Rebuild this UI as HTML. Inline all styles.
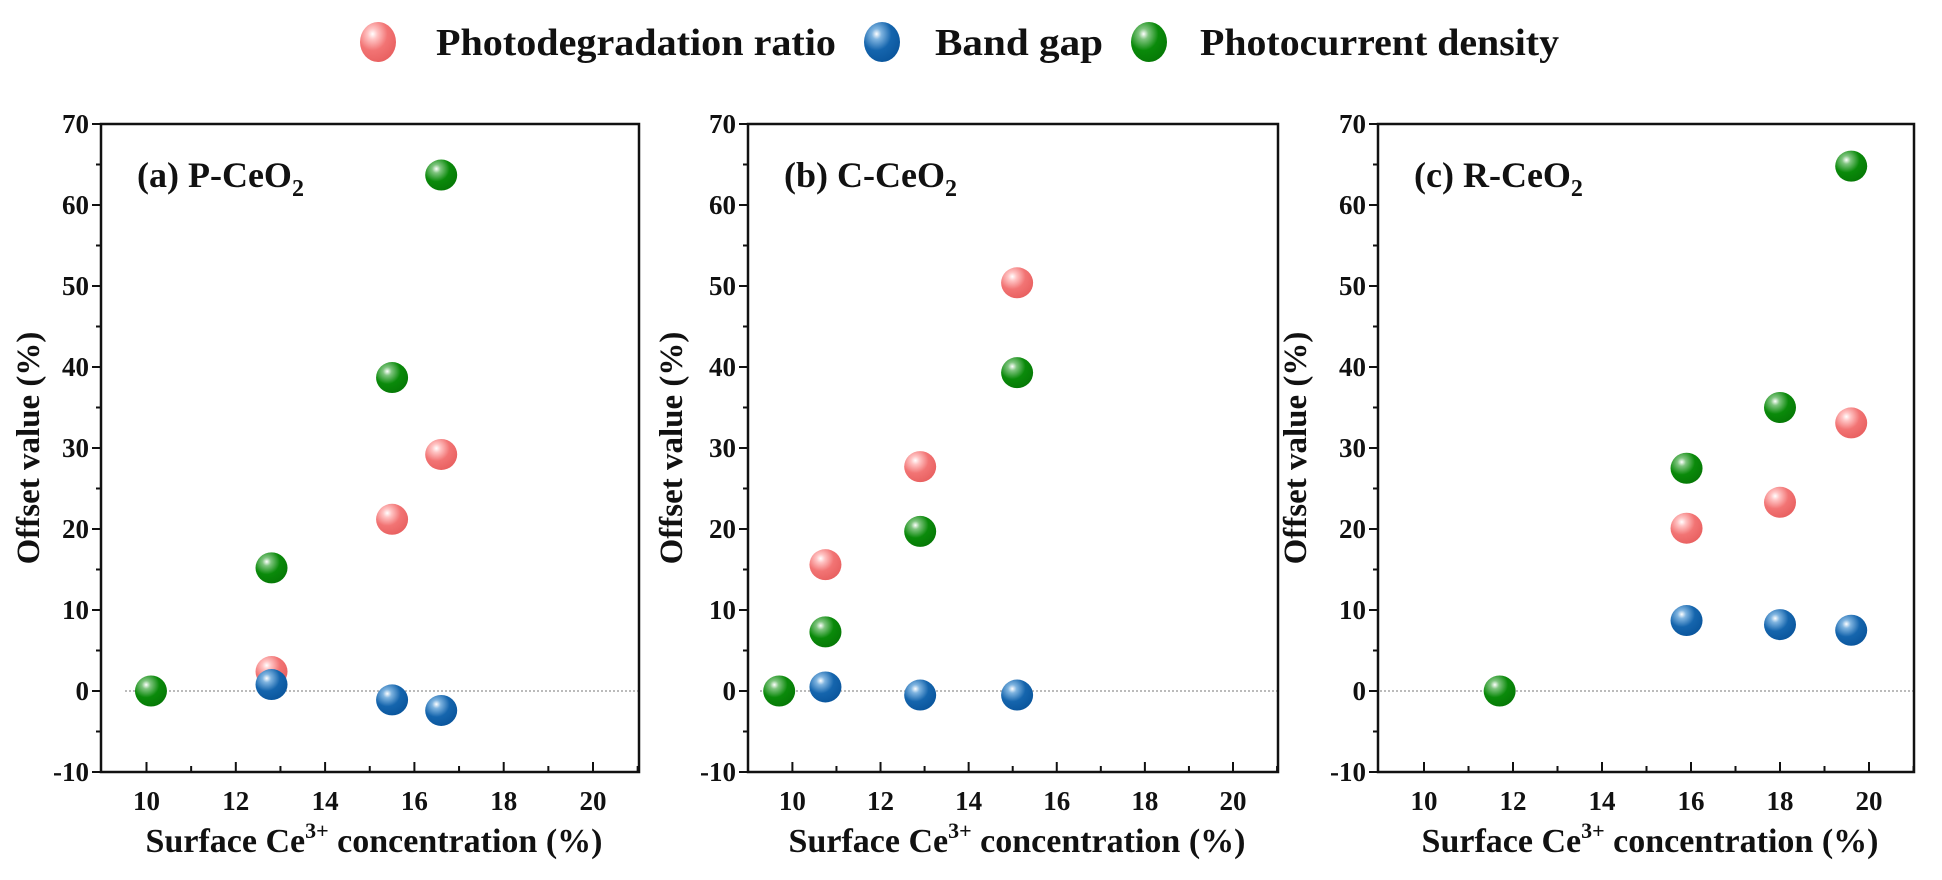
<!DOCTYPE html>
<html><head><meta charset="utf-8">
<style>
html,body{margin:0;padding:0;background:#fff;}
svg text{font-family:"Liberation Serif",serif;font-weight:bold;fill:#111;}
</style></head>
<body>
<svg id="s" width="1942" height="875" viewBox="0 0 1942 875" xmlns="http://www.w3.org/2000/svg">
<defs>
<radialGradient id="gp" cx="0.35" cy="0.3" r="0.75"><stop offset="0" stop-color="#fff"/><stop offset="0.18" stop-color="#ffc4c4"/><stop offset="0.55" stop-color="#f27474"/><stop offset="1" stop-color="#e86060"/></radialGradient>
<radialGradient id="gb" cx="0.35" cy="0.3" r="0.75"><stop offset="0" stop-color="#fff"/><stop offset="0.18" stop-color="#7fb4e0"/><stop offset="0.55" stop-color="#1565ad"/><stop offset="1" stop-color="#0a559c"/></radialGradient>
<radialGradient id="gg" cx="0.35" cy="0.3" r="0.75"><stop offset="0" stop-color="#fff"/><stop offset="0.18" stop-color="#7fc47f"/><stop offset="0.55" stop-color="#0a8a0a"/><stop offset="1" stop-color="#067806"/></radialGradient>
</defs>
<ellipse cx="378" cy="42" rx="18" ry="20" fill="url(#gp)"/>
<text x="436" y="55" font-size="38" textLength="400" lengthAdjust="spacingAndGlyphs">Photodegradation ratio</text>
<ellipse cx="882" cy="42" rx="18" ry="20" fill="url(#gb)"/>
<text x="935" y="55" font-size="38" textLength="168" lengthAdjust="spacingAndGlyphs">Band gap</text>
<ellipse cx="1149" cy="42" rx="18" ry="20" fill="url(#gg)"/>
<text x="1200" y="55" font-size="38" textLength="359" lengthAdjust="spacingAndGlyphs">Photocurrent density</text>
</svg>
<script>
(function(){
const s=document.getElementById('s');
const NS='http://www.w3.org/2000/svg';
function el(t,a,txt){const e=document.createElementNS(NS,t);for(const k in a)e.setAttribute(k,a[k]);if(txt!==undefined)e.innerHTML=txt;s.appendChild(e);return e;}
const T0=124,B0=772;
const Y=v=>T0+(70-v)*(B0-T0)/80;
const panels=[
{L:101,R:639,x10:146.5,x20:593,title:'(a) P-CeO<tspan font-size="24" dy="9">2</tspan>',ylab:27,z0:125,
g:[[10.1,0],[12.8,15.2],[15.5,38.7],[16.6,63.7]],p:[[12.8,2.4],[15.5,21.2],[16.6,29.2]],b:[[12.8,0.8],[15.5,-1.1],[16.6,-2.4]]},
{L:748,R:1278,x10:792.4,x20:1233,title:'(b) C-CeO<tspan font-size="24" dy="9">2</tspan>',ylab:670,z0:760,
g:[[9.7,0],[10.75,7.3],[12.9,19.7],[15.1,39.3]],p:[[10.75,15.6],[12.9,27.7],[15.1,50.4]],b:[[10.75,0.5],[12.9,-0.5],[15.1,-0.5]]},
{L:1378,R:1914,x10:1424,x20:1869,title:'(c) R-CeO<tspan font-size="24" dy="9">2</tspan>',ylab:1294,z0:1380,
g:[[11.7,0],[15.9,27.5],[18,35],[19.6,64.8]],p:[[15.9,20.1],[18,23.3],[19.6,33.1]],b:[[15.9,8.7],[18,8.2],[19.6,7.5]]}
];
for(const P of panels){
 const X=v=>P.x10+(v-10)*(P.x20-P.x10)/10;
 el('line',{x1:P.z0,x2:P.R,y1:Y(0),y2:Y(0),stroke:'#777','stroke-width':1,'stroke-dasharray':'2,2'});
 el('rect',{x:P.L,y:T0,width:P.R-P.L,height:B0-T0,fill:'none',stroke:'#111','stroke-width':2.5});
 for(let v=-10;v<=70;v+=5){const maj=v%10==0;el('line',{x1:P.L-(maj?9:5),x2:P.L,y1:Y(v),y2:Y(v),stroke:'#111','stroke-width':2});
  if(maj)el('text',{x:P.L-12,y:Y(v)+9,'font-size':27,'text-anchor':'end'},String(v));}
 for(let v=10;v<=21;v+=1){const x=X(v);if(x>P.R)break;const maj=v%2==0;el('line',{x1:x,x2:x,y1:B0,y2:B0-(maj?10:6),stroke:'#111','stroke-width':2});
  if(maj)el('text',{x:x,y:810,'font-size':27,'text-anchor':'middle'},String(v));}
 el('text',{x:(P.L+P.R)/2+4,y:852,'font-size':34,'text-anchor':'middle'},'Surface Ce<tspan font-size="22" dy="-14">3+</tspan><tspan dy="14"> concentration (%)</tspan>');
 const cy=(T0+B0)/2;
 el('text',{x:P.ylab,y:cy+12,'font-size':33,'text-anchor':'middle',transform:`rotate(-90 ${P.ylab} ${cy})`},'Offset value (%)');
 el('text',{x:P.L+36,y:187,'font-size':36},P.title);
 const draw=(arr,id)=>arr.forEach(([x,y])=>el('ellipse',{cx:X(x),cy:Y(y),rx:16,ry:15.5,fill:`url(#${id})`}));
 draw(P.g,'gg');draw(P.p,'gp');draw(P.b,'gb');
}
})();
</script>
</body></html>
